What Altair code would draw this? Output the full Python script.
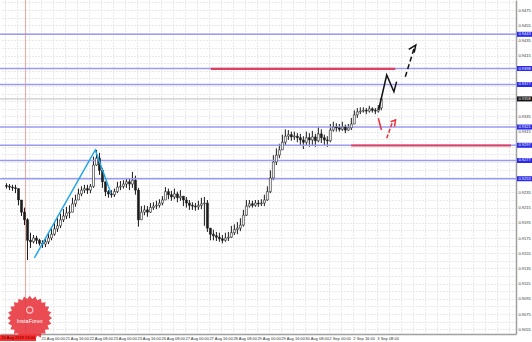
import math
import altair as alt
import pandas as pd

# ---------------- data (USD/CHF chart, 2-hour bars, prices in pips) -------------
close_pips = [
    9243, 9242, 9241, 9240, 9225, 9209, 9199, 9172, 9170, 9175,
    9172, 9168, 9167, 9170, 9175, 9180, 9187, 9191, 9199, 9204,
    9208, 9209, 9220, 9225, 9233, 9238, 9240, 9238, 9243, 9271,
    9280, 9264, 9249, 9236, 9233, 9232, 9236, 9242, 9243, 9246,
    9249, 9246, 9251, 9238, 9199, 9209, 9212, 9209, 9215, 9217,
    9218, 9221, 9225, 9236, 9232, 9229, 9233, 9228, 9230, 9225,
    9221, 9218, 9217, 9216, 9218, 9220, 9221, 9188, 9180, 9178,
    9176, 9174, 9172, 9175, 9176, 9182, 9186, 9188, 9192, 9205,
    9217, 9220, 9218, 9221, 9220, 9221, 9225, 9236, 9254, 9275,
    9284, 9291, 9301, 9309, 9311, 9308, 9309, 9307, 9304, 9301,
    9307, 9304, 9308, 9303, 9312, 9307, 9304, 9303, 9317, 9321,
    9320, 9318, 9321, 9317, 9320, 9325, 9337, 9341, 9342, 9343,
    9342, 9345, 9343, 9342, 9346, 9358,
]
high_pips = [
    9247, 9246, 9245, 9245, 9240, 9225, 9215, 9201, 9182, 9179,
    9178, 9174, 9172, 9175, 9182, 9188, 9196, 9201, 9207, 9213,
    9216, 9218, 9228, 9232, 9240, 9243, 9245, 9245, 9246, 9282,
    9291, 9287, 9267, 9249, 9238, 9238, 9240, 9249, 9250, 9251,
    9254, 9253, 9262, 9257, 9241, 9217, 9218, 9217, 9221, 9222,
    9224, 9226, 9230, 9242, 9240, 9237, 9240, 9236, 9238, 9230,
    9229, 9225, 9222, 9221, 9224, 9228, 9229, 9225, 9188, 9186,
    9183, 9182, 9179, 9182, 9183, 9191, 9193, 9196, 9201, 9212,
    9225, 9225, 9224, 9225, 9225, 9226, 9232, 9243, 9264, 9284,
    9293, 9299, 9311, 9318, 9317, 9315, 9315, 9313, 9312, 9309,
    9315, 9313, 9316, 9312, 9321, 9318, 9311, 9309, 9325, 9328,
    9326, 9325, 9328, 9324, 9325, 9333, 9343, 9346, 9347, 9347,
    9346, 9349, 9347, 9346, 9350, 9360,
]
low_pips = [
    9240, 9238, 9237, 9234, 9218, 9204, 9192, 9146, 9162, 9168,
    9167, 9165, 9162, 9163, 9167, 9172, 9178, 9183, 9188, 9196,
    9200, 9201, 9209, 9216, 9225, 9230, 9234, 9233, 9234, 9241,
    9270, 9258, 9241, 9230, 9228, 9228, 9229, 9234, 9238, 9240,
    9241, 9238, 9241, 9232, 9190, 9201, 9205, 9203, 9208, 9212,
    9213, 9215, 9218, 9225, 9226, 9224, 9226, 9222, 9224, 9217,
    9215, 9212, 9212, 9211, 9212, 9213, 9191, 9183, 9172, 9172,
    9171, 9170, 9168, 9170, 9171, 9175, 9179, 9180, 9184, 9190,
    9204, 9215, 9215, 9216, 9216, 9217, 9217, 9224, 9234, 9251,
    9271, 9280, 9291, 9297, 9304, 9303, 9304, 9301, 9296, 9292,
    9297, 9295, 9297, 9295, 9301, 9300, 9296, 9295, 9301, 9315,
    9315, 9315, 9316, 9313, 9316, 9317, 9325, 9333, 9338, 9340,
    9338, 9340, 9340, 9338, 9340, 9343,
]
first_open_pips = 9244
bar_hours = 2

price_label_pips = list(range(9055, 9476, 20))
hidden_label_pips = [9395, 9375, 9355, 9295, 9275, 9255]
grid_pips = list(range(9055, 9486, 10))

date_tick_hours = [8, 24, 40, 56, 72, 88, 104, 120, 136, 152, 168, 184, 200, 216, 232, 248]
date_tick_labels = ["20 Aug 08:00", "21 Aug 00:00", "21 Aug 16:00", "22 Aug 08:00",
                    "23 Aug 00:00", "23 Aug 16:00", "26 Aug 08:00", "27 Aug 00:00",
                    "27 Aug 16:00", "28 Aug 08:00", "29 Aug 00:00", "29 Aug 16:00",
                    "30 Aug 08:00", "2 Sep 00:00", "2 Sep 16:00", "3 Sep 08:00"]
grid_hours = list(range(0, 337, 8))

level_prices = [0.9443, 0.9398, 0.9377, 0.9321, 0.9297, 0.9277, 0.9253]
current_price = 0.9358

cursor_hour = 13.7
cursor_label = "20 Aug 2019 13:00"

trend_hours = [19.6, 60.2, 70.6]
trend_prices = [0.91487, 0.92908, 0.92342]

red_upper_hours = [137.3, 260.3]
red_upper_price = 0.93975
red_lower_hours = [230.9, 337.5]
red_lower_price = 0.92967

black_path_hours = [249.2, 254.6, 259.4, 261.2]
black_path_prices = [0.93434, 0.93895, 0.93675, 0.93807]
black_dash_hours = [267.0, 273.2]
black_dash_prices = [0.93872, 0.94267]
black_head_hours = [269.3, 274.0, 272.9]
black_head_prices = [0.94233, 0.94289, 0.94188]

red_path_hours = [249.0, 251.1]
red_path_prices = [0.93325, 0.93171]
red_dash_hours = [254.6, 258.3]
red_dash_prices = [0.93062, 0.93267]
red_head_hours = [257.2, 260.5, 259.8]
red_head_prices = [0.93280, 0.93303, 0.93215]

logo_hour = 16.5
logo_price = 0.90697
logo_icon_price = 0.90803
logo_text_price = 0.90655
logo_text = "InstaForex"

# ---------------- tables ----------------
rows = []
prev = first_open_pips
for i, (c, h, l) in enumerate(zip(close_pips, high_pips, low_pips)):
    o = prev
    rows.append(dict(t=i * bar_hours + 1, lo=min(l, o, c) / 1e4, hi=max(h, o, c) / 1e4,
                     bot=min(o, c) / 1e4, top=max(o, c) / 1e4, up=bool(c >= o)))
    prev = c
candles = pd.DataFrame(rows)

FONT = "Liberation Sans"
xs = alt.Scale(domain=[0, 337.5], nice=False, zero=False)
ys = alt.Scale(domain=[0.904870, 0.948816], nice=False, zero=False)

shown_pips = [p for p in price_label_pips if p not in hidden_label_pips]
y_label_expr = " : ".join(
    f"abs(datum.value - {p / 1e4:.4f}) < 0.00001 ? '{p / 1e4:.4f}'" for p in shown_pips) + " : ''"
x_label_expr = " : ".join(
    f"abs(datum.value - {h}) < 0.01 ? '{lab}'"
    for h, lab in zip(date_tick_hours[1:], date_tick_labels[1:])) + " : ''"

GRID = "#d4d4d4"
x_axis = alt.Axis(values=grid_hours, labelExpr=x_label_expr, grid=True, gridDash=[1, 2],
                  gridColor=GRID, gridWidth=1, domainColor="#a0a0a0", domainWidth=1.5,
                  ticks=False, labelFontSize=4, labelFont=FONT, labelColor="#333333",
                  labelAlign="left", labelPadding=2, labelOverlap=False, labelFlush=False,
                  title=None)
y_axis = alt.Axis(orient="right", values=[p / 1e4 for p in grid_pips], labelExpr=y_label_expr,
                  grid=True, gridDash=[1, 2], gridColor=GRID, gridWidth=1,
                  domainColor="#a0a0a0", domainWidth=1.5, ticks=False, labelFontSize=4,
                  labelFont=FONT, labelColor="#333333", labelAlign="left", labelPadding=2,
                  labelBaseline="middle", labelOverlap=False, labelFlush=False, title=None)


def X(f):
    return alt.X(f, type="quantitative", scale=xs, axis=x_axis, title=None)


def Y(f):
    return alt.Y(f, type="quantitative", scale=ys, axis=y_axis, title=None)


def line_df(hours, prices):
    return pd.DataFrame({"h": hours, "p": prices, "k": list(range(len(hours)))})


wicks = alt.Chart(candles).mark_rule(color="#1c1c1c", strokeWidth=1).encode(
    x=X("t"), y=Y("lo"), y2="hi:Q")

bodies = alt.Chart(candles).mark_bar(size=2, stroke="#1c1c1c", strokeWidth=0.6).encode(
    x=X("t"), y=Y("bot"), y2="top:Q",
    color=alt.condition("datum.up", alt.value("#ffffff"), alt.value("#1c1c1c")),
)

cursor = alt.Chart(pd.DataFrame({"h": [cursor_hour]})).mark_rule(
    color="#f3a6a6", strokeWidth=1).encode(x=X("h"), y=alt.value(0), y2=alt.value(334))

levels_df = pd.DataFrame({"p": level_prices, "lab": [f"{p:.4f}" for p in level_prices]})
levels = alt.Chart(levels_df).mark_rule(color="#9a9af2", strokeWidth=1.4).encode(
    y=Y("p"), x=alt.value(0), x2=alt.value(516))

cur_df = pd.DataFrame({"p": [current_price], "lab": [f"{current_price:.4f}"]})
cur_line = alt.Chart(cur_df).mark_rule(color="#bdbdbd", strokeWidth=1).encode(
    y=Y("p"), x=alt.value(0), x2=alt.value(516))

red_df = pd.DataFrame({"h1": [red_upper_hours[0], red_lower_hours[0]],
                       "h2": [red_upper_hours[1], red_lower_hours[1]],
                       "p": [red_upper_price, red_lower_price]})
red_lines = alt.Chart(red_df).mark_rule(color="#e0405e", strokeWidth=2.2).encode(
    x=X("h1"), x2="h2:Q", y=Y("p"))


def poly(hours, prices, color, width, dash=None):
    kw = dict(color=color, strokeWidth=width)
    if dash:
        kw["strokeDash"] = dash
    return alt.Chart(line_df(hours, prices)).mark_line(**kw).encode(
        x=X("h"), y=Y("p"), order="k:Q")


trend = poly(trend_hours, trend_prices, "#22a6e6", 1.5)
black_path = poly(black_path_hours, black_path_prices, "#111111", 1.5)
black_dash = poly(black_dash_hours, black_dash_prices, "#111111", 1.5, [5, 3])
black_head = poly(black_head_hours, black_head_prices, "#111111", 1.5)
red_path = poly(red_path_hours, red_path_prices, "#e8323c", 1.5)
red_dash = poly(red_dash_hours, red_dash_prices, "#e8323c", 1.5, [4, 2])
red_head = poly(red_head_hours, red_head_prices, "#e8323c", 1.5)

# price boxes on the right axis
box_h = 0.00033
boxes_df = pd.concat([levels_df.assign(col="blue"), cur_df.assign(col="black")])
boxes_df["lo"] = boxes_df["p"] - box_h
boxes_df["hi"] = boxes_df["p"] + box_h
boxes = alt.Chart(boxes_df).mark_rect().encode(
    x=alt.value(517), x2=alt.value(532), y=Y("lo"), y2="hi:Q",
    color=alt.Color("col:N", scale=alt.Scale(domain=["blue", "black"],
                                             range=["#2a2ae8", "#111111"]), legend=None))
box_text = alt.Chart(boxes_df).mark_text(
    color="white", fontSize=4, font=FONT, align="center", baseline="middle").encode(
    x=alt.value(524.5), y=Y("p"), text="lab:N")

# logo
n = 24
pts = []
for k in range(2 * n):
    r = 1.0 if k % 2 == 0 else 0.86
    a = math.pi * k / n
    pts.append(f"{r * math.cos(a):.3f},{r * math.sin(a):.3f}")
star_path = "M" + " L".join(pts) + " Z"
logo_df = pd.DataFrame({"h": [logo_hour], "p": [logo_price]})
logo = alt.Chart(logo_df).mark_point(shape=star_path, size=2000, filled=True,
                                      color="#e8333b", opacity=0.88).encode(x=X("h"), y=Y("p"))
icon = alt.Chart(pd.DataFrame({"h": [logo_hour], "p": [logo_icon_price]})).mark_point(
    shape="circle", size=40, filled=False, color="white", strokeWidth=1.2).encode(
    x=X("h"), y=Y("p"))
logo_txt = alt.Chart(pd.DataFrame({"h": [logo_hour], "p": [logo_text_price], "s": [logo_text]})
                     ).mark_text(color="white", fontSize=5.5, font=FONT, align="center",
                                 baseline="middle").encode(x=X("h"), y=Y("p"), text="s:N")

# cursor time label at the bottom
cur_box_df = pd.DataFrame({"h": [cursor_hour], "s": [cursor_label]})
cur_box = alt.Chart(cur_box_df).mark_rect(color="#ff2a2a").encode(
    x=alt.value(0), x2=alt.value(36), y=alt.value(335), y2=alt.value(341))
cur_box_txt = alt.Chart(cur_box_df).mark_text(
    color="#4a0000", fontSize=4, font=FONT, align="center", baseline="middle").encode(
    x=alt.value(18), y=alt.value(338), text="s:N")

chart = alt.layer(
    wicks, cursor, levels, cur_line, bodies, red_lines, trend,
    black_path, black_dash, black_head, red_path, red_dash, red_head,
    boxes, box_text, logo, icon, logo_txt, cur_box, cur_box_txt,
).properties(
    width=516, height=334,
    autosize=alt.AutoSizeParams(type="none"),
    padding={"left": 0, "top": 0, "right": 16, "bottom": 8},
    background="white",
).configure_view(stroke=None)

chart.save("out.html", embed_options={"renderer": "svg", "actions": False})
